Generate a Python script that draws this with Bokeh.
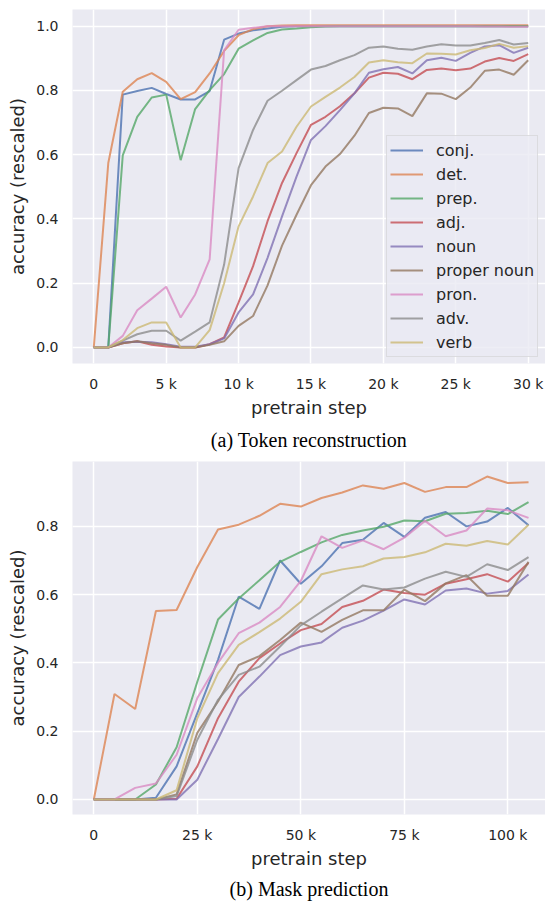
from bokeh.plotting import figure
from bokeh.models import Legend, LegendItem, Title, FixedTicker, Range1d
from bokeh.layouts import column
from bokeh.embed import file_html
from bokeh.resources import INLINE

# ---------------- data ----------------
categories = ["conj.", "det.", "prep.", "adj.", "noun", "proper noun", "pron.", "adv.", "verb"]
colors = ["#4C72B0", "#DD8452", "#55A868", "#C44E52", "#8172B3", "#937860", "#DA8BC3", "#8C8C8C", "#CCB974"]

steps_a = [0, 1000, 2000, 3000, 4000, 5000, 6000, 7000, 8000, 9000, 10000,
           11000, 12000, 13000, 14000, 15000, 16000, 17000, 18000, 19000, 20000,
           21000, 22000, 23000, 24000, 25000, 26000, 27000, 28000, 29000, 30000]
ticks_a = [0, 5000, 10000, 15000, 20000, 25000, 30000]
tick_labels_a = ["0", "5 k", "10 k", "15 k", "20 k", "25 k", "30 k"]

conj_a = [0, 0, 0.787, 0.798, 0.808, 0.789, 0.772, 0.772, 0.798, 0.958, 0.977, 0.987, 0.993, 0.998, 1.0, 1.0,
          1.0, 1.0, 1.0, 1.0, 1.0, 1.0, 1.0, 1.0, 1.0, 1.0, 1.0, 1.0, 1.0, 1.0, 1.0]
det_a = [0, 0.574, 0.796, 0.835, 0.854, 0.827, 0.773, 0.795, 0.853, 0.923, 0.972, 0.991, 1.0, 1.002, 1.003, 1.003,
         1.003, 1.003, 1.003, 1.003, 1.003, 1.003, 1.003, 1.003, 1.003, 1.003, 1.003, 1.003, 1.003, 1.003, 1.003]
prep_a = [0, 0, 0.598, 0.718, 0.778, 0.787, 0.583, 0.742, 0.801, 0.851, 0.930, 0.956, 0.979, 0.990, 0.993, 0.997,
          0.999, 1.0, 1.0, 1.0, 1.0, 1.0, 1.0, 1.0, 1.0, 1.0, 1.0, 1.0, 1.0, 1.0, 1.0]
adj_a = [0, 0, 0.013, 0.019, 0.008, 0.003, 0, 0, 0.010, 0.031, 0.140, 0.253, 0.393, 0.512, 0.605, 0.693,
         0.718, 0.751, 0.791, 0.840, 0.855, 0.852, 0.835, 0.864, 0.868, 0.863, 0.868, 0.890, 0.901, 0.892, 0.913]
noun_a = [0, 0, 0.016, 0.018, 0.016, 0.010, 0.002, 0.002, 0.010, 0.028, 0.109, 0.165, 0.279, 0.408, 0.532, 0.646,
          0.689, 0.739, 0.791, 0.855, 0.866, 0.873, 0.853, 0.894, 0.902, 0.892, 0.917, 0.937, 0.941, 0.917, 0.933]
propn_a = [0, 0, 0.013, 0.019, 0.013, 0.008, 0, 0, 0.008, 0.019, 0.067, 0.098, 0.193, 0.317, 0.413, 0.505,
           0.563, 0.602, 0.659, 0.730, 0.746, 0.744, 0.720, 0.791, 0.790, 0.773, 0.809, 0.861, 0.865, 0.849, 0.894]
pron_a = [0, 0, 0.036, 0.116, 0.152, 0.189, 0.093, 0.165, 0.274, 0.925, 0.989, 0.995, 1.0, 1.0, 1.0, 1.0,
          1.0, 1.0, 1.0, 1.0, 1.0, 1.0, 1.0, 1.0, 1.0, 1.0, 1.0, 0.999, 0.999, 0.998, 0.998]
adv_a = [0, 0, 0.021, 0.041, 0.052, 0.052, 0.021, 0.049, 0.078, 0.258, 0.558, 0.677, 0.768, 0.799, 0.832, 0.865,
         0.876, 0.894, 0.910, 0.933, 0.937, 0.930, 0.927, 0.937, 0.944, 0.940, 0.940, 0.948, 0.957, 0.943, 0.948]
verb_a = [0, 0, 0.023, 0.060, 0.078, 0.078, 0, 0, 0.054, 0.200, 0.377, 0.470, 0.574, 0.610, 0.687, 0.750,
          0.780, 0.809, 0.842, 0.887, 0.894, 0.888, 0.885, 0.915, 0.914, 0.912, 0.925, 0.932, 0.945, 0.933, 0.938]

steps_b = [0, 5000, 10000, 15000, 20000, 25000, 30000, 35000, 40000, 45000, 50000,
           55000, 60000, 65000, 70000, 75000, 80000, 85000, 90000, 95000, 100000, 105000]
ticks_b = [0, 25000, 50000, 75000, 100000]
tick_labels_b = ["0", "25 k", "50 k", "75 k", "100 k"]

conj_b = [0, 0, 0, 0.005, 0.097, 0.253, 0.409, 0.594, 0.558, 0.700, 0.632, 0.683, 0.751, 0.761, 0.810, 0.769,
          0.825, 0.842, 0.800, 0.814, 0.854, 0.803]
det_b = [0, 0.309, 0.265, 0.552, 0.555, 0.681, 0.791, 0.805, 0.831, 0.866, 0.858, 0.883, 0.899, 0.920, 0.910,
         0.927, 0.901, 0.915, 0.915, 0.946, 0.927, 0.929]
prep_b = [0, 0, 0, 0.044, 0.153, 0.345, 0.527, 0.589, 0.642, 0.696, 0.725, 0.753, 0.775, 0.788, 0.799, 0.817,
          0.815, 0.837, 0.839, 0.846, 0.836, 0.871]
adj_b = [0, 0, 0, 0, 0.002, 0.097, 0.238, 0.345, 0.414, 0.457, 0.496, 0.514, 0.564, 0.582, 0.615, 0.605,
         0.600, 0.632, 0.645, 0.660, 0.638, 0.693]
noun_b = [0, 0, 0, 0, 0, 0.058, 0.177, 0.300, 0.360, 0.423, 0.448, 0.460, 0.503, 0.524, 0.553, 0.586,
          0.571, 0.612, 0.618, 0.603, 0.611, 0.659]
propn_b = [0, 0, 0, 0, 0.015, 0.195, 0.287, 0.394, 0.420, 0.467, 0.518, 0.491, 0.526, 0.554, 0.554, 0.615,
           0.581, 0.633, 0.657, 0.597, 0.597, 0.696]
pron_b = [0, 0, 0.034, 0.047, 0.131, 0.297, 0.400, 0.487, 0.518, 0.564, 0.640, 0.771, 0.737, 0.759, 0.733,
          0.767, 0.816, 0.771, 0.788, 0.852, 0.847, 0.825]
adv_b = [0, 0, 0, 0, 0.010, 0.175, 0.292, 0.365, 0.389, 0.448, 0.510, 0.550, 0.589, 0.627, 0.615, 0.621,
         0.647, 0.667, 0.652, 0.689, 0.672, 0.710]
verb_b = [0, 0, 0, 0, 0.027, 0.238, 0.370, 0.453, 0.490, 0.530, 0.579, 0.660, 0.674, 0.683, 0.706, 0.710,
          0.724, 0.749, 0.743, 0.757, 0.747, 0.805]

y_ticks = [0.0, 0.2, 0.4, 0.6, 0.8, 1.0]
y_tick_labels = ["0.0", "0.2", "0.4", "0.6", "0.8", "1.0"]

series_a = [conj_a, det_a, prep_a, adj_a, noun_a, propn_a, pron_a, adv_a, verb_a]
series_b = [conj_b, det_b, prep_b, adj_b, noun_b, propn_b, pron_b, adv_b, verb_b]

BG = "#EAEAF2"
TXT = "#262626"
FONT = "DejaVu Sans"


def make_panel(steps, series, xr, yr, xticks, xlabels, caption, height, top, bottom, cap_standoff, legend):
    p = figure(width=545, height=height, output_backend="svg", toolbar_location=None,
               x_range=Range1d(*xr), y_range=Range1d(*yr),
               min_border_left=72, min_border_right=0, min_border_top=top, min_border_bottom=bottom)
    p.background_fill_color = BG
    p.border_fill_color = "white"
    p.outline_line_color = None
    p.grid.grid_line_color = "white"
    p.grid.grid_line_width = 1.5
    for ax in (p.xaxis, p.yaxis):
        ax.axis_line_color = None
        ax.major_tick_line_color = None
        ax.minor_tick_line_color = None
        ax.major_tick_out = 0
        ax.major_tick_in = 0
        ax.minor_tick_out = 0
        ax.minor_tick_in = 0
        ax.major_label_text_font = FONT
        ax.major_label_text_font_size = "14px"
        ax.major_label_text_color = TXT
        ax.axis_label_text_font = FONT
        ax.axis_label_text_font_size = "18px"
        ax.axis_label_text_font_style = "normal"
        ax.axis_label_text_color = TXT
    p.xaxis.ticker = FixedTicker(ticks=xticks)
    p.xaxis.major_label_overrides = {t: l for t, l in zip(xticks, xlabels)}
    p.yaxis.ticker = FixedTicker(ticks=y_ticks)
    p.yaxis.major_label_overrides = {t: l for t, l in zip(y_ticks, y_tick_labels)}
    p.xaxis.axis_label = "pretrain step"
    p.yaxis.axis_label = "accuracy (rescaled)"
    p.xaxis.major_label_standoff = 12
    p.xaxis.axis_label_standoff = 2
    p.yaxis.major_label_standoff = 14
    p.yaxis.axis_label_standoff = 5

    items = []
    for name, col, ys in zip(categories, colors, series):
        r = p.line(steps, ys, line_color=col, line_width=2, line_alpha=0.8)
        items.append(LegendItem(label=name, renderers=[r]))

    if legend:
        lg = Legend(items=items, location=(314, 6), margin=0, padding=3,
                    glyph_width=33, glyph_height=22, label_height=22, spacing=2,
                    label_standoff=13, label_text_font=FONT, label_text_font_size="16px",
                    label_text_color=TXT, background_fill_color=BG, background_fill_alpha=0.8,
                    border_line_color="#CCCCCC", border_line_width=1)
        p.add_layout(lg, "center")

    t = Title(text=caption, text_font="Liberation Serif", text_font_size="20px",
              text_font_style="normal", text_color="black", align="center", offset=-23,
              standoff=cap_standoff)
    p.add_layout(t, "below")
    return p


p1 = make_panel(steps_a, series_a, (-1471, 31195), (-0.05, 1.052), ticks_a, tick_labels_a,
                "(a) Token reconstruction", 457, 9, 94, 13, True)
p2 = make_panel(steps_b, series_b, (-5145, 109100), (-0.044, 0.99), ticks_b, tick_labels_b,
                "(b) Mask prediction", 446, 4, 88, 8, False)

layout = column(p1, p2, spacing=0)
open("out.html", "w").write(file_html(layout, INLINE))
